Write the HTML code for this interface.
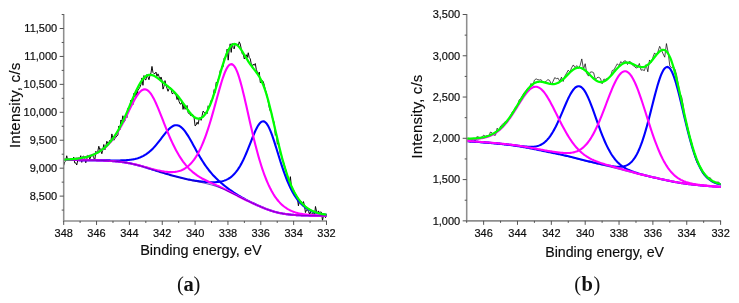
<!DOCTYPE html>
<html><head><meta charset="utf-8"><title>XPS spectra</title>
<style>html,body{margin:0;padding:0;background:#fff;}svg{display:block;}</style>
</head><body>
<svg width="739" height="303" viewBox="0 0 739 303">
<rect width="739" height="303" fill="#fff"/>
<g fill="none" stroke-linejoin="miter" stroke-linecap="butt">
<path d="M63.70,165.56 L64.70,161.94 L65.71,161.05 L66.71,155.78 L67.71,160.06 L68.72,159.85 L69.72,160.57 L70.72,159.08 L71.72,160.63 L72.73,159.42 L73.73,157.11 L74.73,162.98 L75.74,162.89 L76.74,165.03 L77.74,160.44 L78.75,159.09 L79.75,158.57 L80.75,155.70 L81.75,162.36 L82.76,156.52 L83.76,156.07 L84.76,158.48 L85.77,162.79 L86.77,159.12 L87.77,155.39 L88.78,155.90 L89.78,159.16 L90.78,156.64 L91.79,154.57 L92.79,155.59 L93.79,157.76 L94.79,160.61 L95.80,151.29 L96.80,152.40 L97.80,151.30 L98.81,146.24 L99.81,149.64 L100.81,148.63 L101.82,153.76 L102.82,149.50 L103.82,144.53 L104.83,149.88 L105.83,146.16 L106.83,141.31 L107.83,143.42 L108.84,142.31 L109.84,140.34 L110.84,141.61 L111.85,133.93 L112.85,138.10 L113.85,140.26 L114.86,138.31 L115.86,137.46 L116.86,135.85 L117.86,135.19 L118.87,125.97 L119.87,129.72 L120.87,120.01 L121.88,121.62 L122.88,115.74 L123.88,122.20 L124.89,120.86 L125.89,114.15 L126.89,117.67 L127.90,108.16 L128.90,108.27 L129.90,105.96 L130.90,100.00 L131.91,102.22 L132.91,104.51 L133.91,93.37 L134.92,97.10 L135.92,91.86 L136.92,95.82 L137.93,90.05 L138.93,88.92 L139.93,87.20 L140.94,84.47 L141.94,77.95 L142.94,85.34 L143.94,75.55 L144.95,79.54 L145.95,79.81 L146.95,74.50 L147.96,76.97 L148.96,79.74 L149.96,75.70 L150.97,72.83 L151.97,66.41 L152.97,72.48 L153.97,73.58 L154.98,73.65 L155.98,72.10 L156.98,76.34 L157.99,73.85 L158.99,76.30 L159.99,80.17 L161.00,76.97 L162.00,80.19 L163.00,89.13 L164.01,86.29 L165.01,80.61 L166.01,85.33 L167.01,88.26 L168.02,91.28 L169.02,88.92 L170.02,87.83 L171.03,88.25 L172.03,93.52 L173.03,93.60 L174.04,92.20 L175.04,94.37 L176.04,94.89 L177.05,99.59 L178.05,96.58 L179.05,101.45 L180.05,103.87 L181.06,104.12 L182.06,101.51 L183.06,109.40 L184.07,104.71 L185.07,109.34 L186.07,107.15 L187.08,105.50 L188.08,112.56 L189.08,113.90 L190.08,113.93 L191.09,115.98 L192.09,114.21 L193.09,114.90 L194.10,117.84 L195.10,125.91 L196.10,125.05 L197.11,122.19 L198.11,124.19 L199.11,119.09 L200.12,117.53 L201.12,120.35 L202.12,115.46 L203.12,111.11 L204.13,112.16 L205.13,113.66 L206.13,112.15 L207.14,113.61 L208.14,105.80 L209.14,107.88 L210.15,104.59 L211.15,100.32 L212.15,100.57 L213.15,96.71 L214.16,89.64 L215.16,92.46 L216.16,82.28 L217.17,82.98 L218.17,79.53 L219.17,77.54 L220.18,70.64 L221.18,69.54 L222.18,66.02 L223.19,66.58 L224.19,57.93 L225.19,58.03 L226.19,54.52 L227.20,49.01 L228.20,60.16 L229.20,49.68 L230.21,43.82 L231.21,52.39 L232.21,43.48 L233.22,47.68 L234.22,48.90 L235.22,43.70 L236.23,44.39 L237.23,44.23 L238.23,46.03 L239.23,41.82 L240.24,44.02 L241.24,48.74 L242.24,53.88 L243.25,53.95 L244.25,58.98 L245.25,57.12 L246.26,54.73 L247.26,57.46 L248.26,52.78 L249.26,57.61 L250.27,58.78 L251.27,64.20 L252.27,66.66 L253.28,64.08 L254.28,65.25 L255.28,63.52 L256.29,69.36 L257.29,71.98 L258.29,74.17 L259.30,72.04 L260.30,82.59 L261.30,82.20 L262.30,80.52 L263.31,81.76 L264.31,85.22 L265.31,89.73 L266.32,92.53 L267.32,97.59 L268.32,102.19 L269.33,107.91 L270.33,111.34 L271.33,111.87 L272.34,117.67 L273.34,119.82 L274.34,123.70 L275.34,135.27 L276.35,132.95 L277.35,144.19 L278.35,141.92 L279.36,147.78 L280.36,154.13 L281.36,155.15 L282.37,159.94 L283.37,161.88 L284.37,164.75 L285.37,168.90 L286.38,170.80 L287.38,179.77 L288.38,177.91 L289.39,185.48 L290.39,176.66 L291.39,185.98 L292.40,189.60 L293.40,189.51 L294.40,194.97 L295.41,195.65 L296.41,195.06 L297.41,198.42 L298.41,205.81 L299.42,200.81 L300.42,202.20 L301.42,201.56 L302.43,204.07 L303.43,201.58 L304.43,205.20 L305.44,212.57 L306.44,209.96 L307.44,209.65 L308.45,211.46 L309.45,213.97 L310.45,211.40 L311.45,215.51 L312.46,213.56 L313.46,211.82 L314.46,215.98 L315.47,206.48 L316.47,211.15 L317.47,213.48 L318.48,210.92 L319.48,213.00 L320.48,212.07 L321.48,212.25 L322.49,220.55 L323.49,215.70 L324.49,214.22 L325.50,217.66 L326.50,214.06" stroke="#000" stroke-width="0.95"/>
<path d="M63.70,160.03 L64.70,160.03 L65.71,160.03 L66.71,160.04 L67.71,160.04 L68.72,160.04 L69.72,160.04 L70.72,160.04 L71.72,160.05 L72.73,160.05 L73.73,160.05 L74.73,160.06 L75.74,160.06 L76.74,160.06 L77.74,160.07 L78.75,160.07 L79.75,160.08 L80.75,160.08 L81.75,160.09 L82.76,160.09 L83.76,160.10 L84.76,160.11 L85.77,160.11 L86.77,160.12 L87.77,160.13 L88.78,160.14 L89.78,160.15 L90.78,160.16 L91.79,160.17 L92.79,160.18 L93.79,160.19 L94.79,160.20 L95.80,160.22 L96.80,160.23 L97.80,160.24 L98.81,160.26 L99.81,160.27 L100.81,160.28 L101.82,160.30 L102.82,160.31 L103.82,160.33 L104.83,160.34 L105.83,160.36 L106.83,160.37 L107.83,160.39 L108.84,160.40 L109.84,160.41 L110.84,160.43 L111.85,160.44 L112.85,160.45 L113.85,160.45 L114.86,160.46 L115.86,160.46 L116.86,160.46 L117.86,160.45 L118.87,160.44 L119.87,160.43 L120.87,160.41 L121.88,160.38 L122.88,160.35 L123.88,160.31 L124.89,160.25 L125.89,160.19 L126.89,160.12 L127.90,160.03 L128.90,159.94 L129.90,159.82 L130.90,159.69 L131.91,159.54 L132.91,159.37 L133.91,159.17 L134.92,158.96 L135.92,158.71 L136.92,158.44 L137.93,158.14 L138.93,157.80 L139.93,157.43 L140.94,157.02 L141.94,156.57 L142.94,156.07 L143.94,155.54 L144.95,154.95 L145.95,154.32 L146.95,153.63 L147.96,152.90 L148.96,152.11 L149.96,151.26 L150.97,150.37 L151.97,149.41 L152.97,148.41 L153.97,147.35 L154.98,146.24 L155.98,145.09 L156.98,143.89 L157.99,142.66 L158.99,141.39 L159.99,140.10 L161.00,138.79 L162.00,137.48 L163.00,136.17 L164.01,134.87 L165.01,133.60 L166.01,132.37 L167.01,131.19 L168.02,130.08 L169.02,129.05 L170.02,128.11 L171.03,127.28 L172.03,126.58 L173.03,126.00 L174.04,125.57 L175.04,125.29 L176.04,125.18 L177.05,125.22 L178.05,125.44 L179.05,125.82 L180.05,126.37 L181.06,127.09 L182.06,127.96 L183.06,128.98 L184.07,130.13 L185.07,131.42 L186.07,132.82 L187.08,134.32 L188.08,135.90 L189.08,137.57 L190.08,139.29 L191.09,141.05 L192.09,142.85 L193.09,144.68 L194.10,146.51 L195.10,148.34 L196.10,150.16 L197.11,151.96 L198.11,153.74 L199.11,155.48 L200.12,157.19 L201.12,158.86 L202.12,160.48 L203.12,162.06 L204.13,163.59 L205.13,165.07 L206.13,166.50 L207.14,167.89 L208.14,169.22 L209.14,170.51 L210.15,171.75 L211.15,172.95 L212.15,174.10 L213.15,175.22 L214.16,176.30 L215.16,177.34 L216.16,178.35 L217.17,179.32 L218.17,180.27 L219.17,181.19 L220.18,182.09 L221.18,182.96 L222.18,183.81 L223.19,184.64 L224.19,185.46 L225.19,186.25 L226.19,187.03 L227.20,187.80 L228.20,188.55 L229.20,189.28 L230.21,190.00 L231.21,190.71 L232.21,191.41 L233.22,192.09 L234.22,192.76 L235.22,193.42 L236.23,194.06 L237.23,194.69 L238.23,195.31 L239.23,195.92 L240.24,196.51 L241.24,197.09 L242.24,197.66 L243.25,198.22 L244.25,198.77 L245.25,199.31 L246.26,199.84 L247.26,200.36 L248.26,200.87 L249.26,201.37 L250.27,201.87 L251.27,202.36 L252.27,202.84 L253.28,203.32 L254.28,203.79 L255.28,204.26 L256.29,204.72 L257.29,205.18 L258.29,205.63 L259.30,206.08 L260.30,206.52 L261.30,206.95 L262.30,207.38 L263.31,207.80 L264.31,208.21 L265.31,208.61 L266.32,209.00 L267.32,209.38 L268.32,209.75 L269.33,210.10 L270.33,210.45 L271.33,210.78 L272.34,211.10 L273.34,211.40 L274.34,211.69 L275.34,211.97 L276.35,212.23 L277.35,212.48 L278.35,212.71 L279.36,212.93 L280.36,213.14 L281.36,213.34 L282.37,213.52 L283.37,213.69 L284.37,213.85 L285.37,214.00 L286.38,214.14 L287.38,214.27 L288.38,214.39 L289.39,214.50 L290.39,214.61 L291.39,214.71 L292.40,214.79 L293.40,214.88 L294.40,214.95 L295.41,215.02 L296.41,215.09 L297.41,215.15 L298.41,215.20 L299.42,215.25 L300.42,215.30 L301.42,215.34 L302.43,215.38 L303.43,215.42 L304.43,215.45 L305.44,215.48 L306.44,215.51 L307.44,215.53 L308.45,215.56 L309.45,215.58 L310.45,215.60 L311.45,215.61 L312.46,215.63 L313.46,215.64 L314.46,215.66 L315.47,215.67 L316.47,215.68 L317.47,215.69 L318.48,215.70 L319.48,215.70 L320.48,215.71 L321.48,215.72 L322.49,215.72 L323.49,215.73 L324.49,215.73 L325.50,215.74 L326.50,215.74" stroke="#0000ff" stroke-width="2.1"/>
<path d="M63.70,160.03 L64.70,160.03 L65.71,160.03 L66.71,160.04 L67.71,160.04 L68.72,160.04 L69.72,160.04 L70.72,160.05 L71.72,160.05 L72.73,160.05 L73.73,160.06 L74.73,160.06 L75.74,160.06 L76.74,160.07 L77.74,160.07 L78.75,160.08 L79.75,160.09 L80.75,160.09 L81.75,160.10 L82.76,160.11 L83.76,160.12 L84.76,160.13 L85.77,160.14 L86.77,160.15 L87.77,160.16 L88.78,160.17 L89.78,160.19 L90.78,160.20 L91.79,160.22 L92.79,160.24 L93.79,160.26 L94.79,160.28 L95.80,160.30 L96.80,160.33 L97.80,160.35 L98.81,160.38 L99.81,160.41 L100.81,160.44 L101.82,160.48 L102.82,160.52 L103.82,160.56 L104.83,160.60 L105.83,160.65 L106.83,160.70 L107.83,160.75 L108.84,160.81 L109.84,160.87 L110.84,160.94 L111.85,161.01 L112.85,161.09 L113.85,161.17 L114.86,161.25 L115.86,161.34 L116.86,161.44 L117.86,161.54 L118.87,161.65 L119.87,161.77 L120.87,161.89 L121.88,162.02 L122.88,162.16 L123.88,162.30 L124.89,162.46 L125.89,162.62 L126.89,162.79 L127.90,162.96 L128.90,163.15 L129.90,163.34 L130.90,163.55 L131.91,163.76 L132.91,163.98 L133.91,164.21 L134.92,164.45 L135.92,164.69 L136.92,164.95 L137.93,165.21 L138.93,165.48 L139.93,165.75 L140.94,166.03 L141.94,166.32 L142.94,166.61 L143.94,166.91 L144.95,167.22 L145.95,167.52 L146.95,167.83 L147.96,168.14 L148.96,168.46 L149.96,168.77 L150.97,169.09 L151.97,169.40 L152.97,169.72 L153.97,170.03 L154.98,170.35 L155.98,170.66 L156.98,170.97 L157.99,171.28 L158.99,171.59 L159.99,171.90 L161.00,172.21 L162.00,172.51 L163.00,172.81 L164.01,173.11 L165.01,173.41 L166.01,173.71 L167.01,174.00 L168.02,174.29 L169.02,174.58 L170.02,174.87 L171.03,175.16 L172.03,175.44 L173.03,175.72 L174.04,176.00 L175.04,176.27 L176.04,176.54 L177.05,176.81 L178.05,177.08 L179.05,177.33 L180.05,177.59 L181.06,177.84 L182.06,178.08 L183.06,178.32 L184.07,178.56 L185.07,178.78 L186.07,179.00 L187.08,179.22 L188.08,179.43 L189.08,179.63 L190.08,179.82 L191.09,180.01 L192.09,180.19 L193.09,180.37 L194.10,180.53 L195.10,180.69 L196.10,180.85 L197.11,180.99 L198.11,181.13 L199.11,181.27 L200.12,181.39 L201.12,181.51 L202.12,181.62 L203.12,181.72 L204.13,181.82 L205.13,181.91 L206.13,181.99 L207.14,182.06 L208.14,182.11 L209.14,182.16 L210.15,182.20 L211.15,182.23 L212.15,182.24 L213.15,182.24 L214.16,182.22 L215.16,182.18 L216.16,182.12 L217.17,182.04 L218.17,181.94 L219.17,181.81 L220.18,181.64 L221.18,181.45 L222.18,181.22 L223.19,180.95 L224.19,180.63 L225.19,180.27 L226.19,179.85 L227.20,179.38 L228.20,178.84 L229.20,178.24 L230.21,177.56 L231.21,176.81 L232.21,175.97 L233.22,175.04 L234.22,174.02 L235.22,172.90 L236.23,171.67 L237.23,170.34 L238.23,168.90 L239.23,167.34 L240.24,165.67 L241.24,163.88 L242.24,161.97 L243.25,159.95 L244.25,157.83 L245.25,155.60 L246.26,153.28 L247.26,150.87 L248.26,148.40 L249.26,145.87 L250.27,143.32 L251.27,140.76 L252.27,138.22 L253.28,135.73 L254.28,133.33 L255.28,131.05 L256.29,128.92 L257.29,126.98 L258.29,125.28 L259.30,123.84 L260.30,122.69 L261.30,121.88 L262.30,121.41 L263.31,121.30 L264.31,121.57 L265.31,122.21 L266.32,123.23 L267.32,124.60 L268.32,126.31 L269.33,128.33 L270.33,130.63 L271.33,133.17 L272.34,135.93 L273.34,138.85 L274.34,141.91 L275.34,145.07 L276.35,148.29 L277.35,151.54 L278.35,154.80 L279.36,158.03 L280.36,161.21 L281.36,164.33 L282.37,167.37 L283.37,170.31 L284.37,173.15 L285.37,175.88 L286.38,178.50 L287.38,180.99 L288.38,183.36 L289.39,185.61 L290.39,187.74 L291.39,189.75 L292.40,191.65 L293.40,193.43 L294.40,195.10 L295.41,196.67 L296.41,198.13 L297.41,199.50 L298.41,200.78 L299.42,201.97 L300.42,203.08 L301.42,204.11 L302.43,205.06 L303.43,205.95 L304.43,206.77 L305.44,207.53 L306.44,208.23 L307.44,208.88 L308.45,209.48 L309.45,210.03 L310.45,210.54 L311.45,211.00 L312.46,211.43 L313.46,211.83 L314.46,212.19 L315.47,212.52 L316.47,212.82 L317.47,213.10 L318.48,213.35 L319.48,213.59 L320.48,213.80 L321.48,213.99 L322.49,214.16 L323.49,214.32 L324.49,214.47 L325.50,214.60 L326.50,214.72" stroke="#0000ff" stroke-width="2.1"/>
<path d="M63.70,159.61 L64.70,159.57 L65.71,159.52 L66.71,159.47 L67.71,159.42 L68.72,159.36 L69.72,159.30 L70.72,159.23 L71.72,159.15 L72.73,159.07 L73.73,158.98 L74.73,158.88 L75.74,158.77 L76.74,158.66 L77.74,158.53 L78.75,158.40 L79.75,158.25 L80.75,158.09 L81.75,157.92 L82.76,157.74 L83.76,157.54 L84.76,157.32 L85.77,157.09 L86.77,156.84 L87.77,156.58 L88.78,156.29 L89.78,155.98 L90.78,155.65 L91.79,155.29 L92.79,154.91 L93.79,154.50 L94.79,154.07 L95.80,153.60 L96.80,153.10 L97.80,152.57 L98.81,152.00 L99.81,151.40 L100.81,150.75 L101.82,150.06 L102.82,149.34 L103.82,148.56 L104.83,147.74 L105.83,146.87 L106.83,145.94 L107.83,144.97 L108.84,143.93 L109.84,142.85 L110.84,141.70 L111.85,140.49 L112.85,139.22 L113.85,137.88 L114.86,136.49 L115.86,135.02 L116.86,133.50 L117.86,131.90 L118.87,130.25 L119.87,128.53 L120.87,126.75 L121.88,124.92 L122.88,123.03 L123.88,121.09 L124.89,119.11 L125.89,117.09 L126.89,115.05 L127.90,112.98 L128.90,110.91 L129.90,108.85 L130.90,106.80 L131.91,104.78 L132.91,102.82 L133.91,100.91 L134.92,99.09 L135.92,97.38 L136.92,95.78 L137.93,94.32 L138.93,93.02 L139.93,91.89 L140.94,90.95 L141.94,90.22 L142.94,89.70 L143.94,89.41 L144.95,89.36 L145.95,89.54 L146.95,89.97 L147.96,90.63 L148.96,91.52 L149.96,92.63 L150.97,93.96 L151.97,95.49 L152.97,97.20 L153.97,99.08 L154.98,101.11 L155.98,103.27 L156.98,105.55 L157.99,107.91 L158.99,110.35 L159.99,112.84 L161.00,115.38 L162.00,117.93 L163.00,120.49 L164.01,123.05 L165.01,125.59 L166.01,128.11 L167.01,130.58 L168.02,133.01 L169.02,135.39 L170.02,137.71 L171.03,139.96 L172.03,142.15 L173.03,144.28 L174.04,146.33 L175.04,148.30 L176.04,150.21 L177.05,152.04 L178.05,153.80 L179.05,155.48 L180.05,157.09 L181.06,158.64 L182.06,160.11 L183.06,161.52 L184.07,162.86 L185.07,164.13 L186.07,165.35 L187.08,166.51 L188.08,167.61 L189.08,168.66 L190.08,169.65 L191.09,170.60 L192.09,171.49 L193.09,172.35 L194.10,173.16 L195.10,173.94 L196.10,174.67 L197.11,175.38 L198.11,176.05 L199.11,176.69 L200.12,177.30 L201.12,177.89 L202.12,178.46 L203.12,179.00 L204.13,179.53 L205.13,180.04 L206.13,180.54 L207.14,181.03 L208.14,181.50 L209.14,181.97 L210.15,182.43 L211.15,182.88 L212.15,183.34 L213.15,183.79 L214.16,184.24 L215.16,184.69 L216.16,185.14 L217.17,185.60 L218.17,186.05 L219.17,186.52 L220.18,186.99 L221.18,187.46 L222.18,187.94 L223.19,188.43 L224.19,188.92 L225.19,189.42 L226.19,189.93 L227.20,190.44 L228.20,190.96 L229.20,191.48 L230.21,192.00 L231.21,192.53 L232.21,193.05 L233.22,193.58 L234.22,194.11 L235.22,194.64 L236.23,195.16 L237.23,195.69 L238.23,196.21 L239.23,196.73 L240.24,197.24 L241.24,197.75 L242.24,198.25 L243.25,198.75 L244.25,199.24 L245.25,199.73 L246.26,200.22 L247.26,200.69 L248.26,201.17 L249.26,201.64 L250.27,202.11 L251.27,202.57 L252.27,203.03 L253.28,203.49 L254.28,203.94 L255.28,204.39 L256.29,204.84 L257.29,205.28 L258.29,205.72 L259.30,206.16 L260.30,206.59 L261.30,207.01 L262.30,207.43 L263.31,207.84 L264.31,208.25 L265.31,208.64 L266.32,209.03 L267.32,209.41 L268.32,209.77 L269.33,210.13 L270.33,210.47 L271.33,210.80 L272.34,211.11 L273.34,211.41 L274.34,211.70 L275.34,211.98 L276.35,212.24 L277.35,212.48 L278.35,212.72 L279.36,212.94 L280.36,213.14 L281.36,213.34 L282.37,213.52 L283.37,213.69 L284.37,213.85 L285.37,214.00 L286.38,214.14 L287.38,214.27 L288.38,214.39 L289.39,214.51 L290.39,214.61 L291.39,214.71 L292.40,214.80 L293.40,214.88 L294.40,214.95 L295.41,215.02 L296.41,215.09 L297.41,215.15 L298.41,215.20 L299.42,215.25 L300.42,215.30 L301.42,215.34 L302.43,215.38 L303.43,215.42 L304.43,215.45 L305.44,215.48 L306.44,215.51 L307.44,215.53 L308.45,215.56 L309.45,215.58 L310.45,215.60 L311.45,215.61 L312.46,215.63 L313.46,215.64 L314.46,215.66 L315.47,215.67 L316.47,215.68 L317.47,215.69 L318.48,215.70 L319.48,215.70 L320.48,215.71 L321.48,215.72 L322.49,215.72 L323.49,215.73 L324.49,215.73 L325.50,215.74 L326.50,215.74" stroke="#ff00ff" stroke-width="2.1"/>
<path d="M63.70,160.03 L64.70,160.03 L65.71,160.03 L66.71,160.04 L67.71,160.04 L68.72,160.04 L69.72,160.04 L70.72,160.05 L71.72,160.05 L72.73,160.05 L73.73,160.06 L74.73,160.06 L75.74,160.06 L76.74,160.07 L77.74,160.07 L78.75,160.08 L79.75,160.09 L80.75,160.09 L81.75,160.10 L82.76,160.11 L83.76,160.12 L84.76,160.13 L85.77,160.14 L86.77,160.15 L87.77,160.16 L88.78,160.17 L89.78,160.19 L90.78,160.20 L91.79,160.22 L92.79,160.24 L93.79,160.26 L94.79,160.28 L95.80,160.30 L96.80,160.33 L97.80,160.35 L98.81,160.38 L99.81,160.41 L100.81,160.44 L101.82,160.48 L102.82,160.52 L103.82,160.56 L104.83,160.60 L105.83,160.65 L106.83,160.70 L107.83,160.75 L108.84,160.81 L109.84,160.87 L110.84,160.94 L111.85,161.01 L112.85,161.08 L113.85,161.16 L114.86,161.25 L115.86,161.34 L116.86,161.44 L117.86,161.54 L118.87,161.65 L119.87,161.76 L120.87,161.88 L121.88,162.01 L122.88,162.15 L123.88,162.29 L124.89,162.44 L125.89,162.60 L126.89,162.76 L127.90,162.94 L128.90,163.12 L129.90,163.31 L130.90,163.51 L131.91,163.72 L132.91,163.93 L133.91,164.15 L134.92,164.38 L135.92,164.62 L136.92,164.87 L137.93,165.12 L138.93,165.38 L139.93,165.64 L140.94,165.91 L141.94,166.18 L142.94,166.45 L143.94,166.73 L144.95,167.01 L145.95,167.29 L146.95,167.58 L147.96,167.86 L148.96,168.14 L149.96,168.41 L150.97,168.69 L151.97,168.96 L152.97,169.22 L153.97,169.48 L154.98,169.73 L155.98,169.97 L156.98,170.21 L157.99,170.44 L158.99,170.65 L159.99,170.86 L161.00,171.05 L162.00,171.23 L163.00,171.40 L164.01,171.55 L165.01,171.69 L166.01,171.81 L167.01,171.91 L168.02,171.99 L169.02,172.05 L170.02,172.09 L171.03,172.10 L172.03,172.09 L173.03,172.05 L174.04,171.97 L175.04,171.87 L176.04,171.73 L177.05,171.55 L178.05,171.33 L179.05,171.06 L180.05,170.75 L181.06,170.40 L182.06,169.98 L183.06,169.51 L184.07,168.99 L185.07,168.39 L186.07,167.74 L187.08,167.01 L188.08,166.20 L189.08,165.32 L190.08,164.36 L191.09,163.30 L192.09,162.16 L193.09,160.92 L194.10,159.59 L195.10,158.15 L196.10,156.60 L197.11,154.95 L198.11,153.17 L199.11,151.28 L200.12,149.27 L201.12,147.14 L202.12,144.88 L203.12,142.49 L204.13,139.97 L205.13,137.32 L206.13,134.55 L207.14,131.64 L208.14,128.62 L209.14,125.47 L210.15,122.22 L211.15,118.86 L212.15,115.41 L213.15,111.88 L214.16,108.29 L215.16,104.65 L216.16,100.99 L217.17,97.32 L218.17,93.69 L219.17,90.11 L220.18,86.62 L221.18,83.25 L222.18,80.04 L223.19,77.02 L224.19,74.24 L225.19,71.73 L226.19,69.52 L227.20,67.65 L228.20,66.16 L229.20,65.06 L230.21,64.39 L231.21,64.15 L232.21,64.35 L233.22,65.01 L234.22,66.11 L235.22,67.64 L236.23,69.60 L237.23,71.95 L238.23,74.67 L239.23,77.73 L240.24,81.10 L241.24,84.73 L242.24,88.59 L243.25,92.65 L244.25,96.86 L245.25,101.18 L246.26,105.59 L247.26,110.04 L248.26,114.52 L249.26,118.98 L250.27,123.42 L251.27,127.80 L252.27,132.11 L253.28,136.33 L254.28,140.44 L255.28,144.45 L256.29,148.34 L257.29,152.09 L258.29,155.72 L259.30,159.21 L260.30,162.56 L261.30,165.77 L262.30,168.84 L263.31,171.77 L264.31,174.57 L265.31,177.22 L266.32,179.75 L267.32,182.15 L268.32,184.41 L269.33,186.56 L270.33,188.59 L271.33,190.50 L272.34,192.29 L273.34,193.99 L274.34,195.57 L275.34,197.06 L276.35,198.46 L277.35,199.77 L278.35,200.99 L279.36,202.13 L280.36,203.19 L281.36,204.18 L282.37,205.10 L283.37,205.96 L284.37,206.75 L285.37,207.49 L286.38,208.17 L287.38,208.81 L288.38,209.39 L289.39,209.93 L290.39,210.43 L291.39,210.89 L292.40,211.32 L293.40,211.71 L294.40,212.07 L295.41,212.40 L296.41,212.70 L297.41,212.98 L298.41,213.24 L299.42,213.47 L300.42,213.68 L301.42,213.88 L302.43,214.06 L303.43,214.22 L304.43,214.37 L305.44,214.51 L306.44,214.63 L307.44,214.74 L308.45,214.84 L309.45,214.94 L310.45,215.02 L311.45,215.10 L312.46,215.17 L313.46,215.23 L314.46,215.28 L315.47,215.33 L316.47,215.38 L317.47,215.42 L318.48,215.46 L319.48,215.49 L320.48,215.52 L321.48,215.55 L322.49,215.57 L323.49,215.60 L324.49,215.62 L325.50,215.63 L326.50,215.65" stroke="#ff00ff" stroke-width="2.1"/>
<path d="M63.70,160.03 L64.70,160.03 L65.71,160.03 L66.71,160.04 L67.71,160.04 L68.72,160.04 L69.72,160.04 L70.72,160.05 L71.72,160.05 L72.73,160.05 L73.73,160.06 L74.73,160.06 L75.74,160.06 L76.74,160.07 L77.74,160.07 L78.75,160.08 L79.75,160.09 L80.75,160.09 L81.75,160.10 L82.76,160.11 L83.76,160.12 L84.76,160.13 L85.77,160.14 L86.77,160.15 L87.77,160.16 L88.78,160.17 L89.78,160.19 L90.78,160.20 L91.79,160.22 L92.79,160.24 L93.79,160.26 L94.79,160.28 L95.80,160.30 L96.80,160.33 L97.80,160.35 L98.81,160.38 L99.81,160.41 L100.81,160.44 L101.82,160.48 L102.82,160.52 L103.82,160.56 L104.83,160.60 L105.83,160.65 L106.83,160.70 L107.83,160.75 L108.84,160.81 L109.84,160.87 L110.84,160.94 L111.85,161.01 L112.85,161.09 L113.85,161.17 L114.86,161.25 L115.86,161.34 L116.86,161.44 L117.86,161.54 L118.87,161.65 L119.87,161.77 L120.87,161.89 L121.88,162.02 L122.88,162.16 L123.88,162.30 L124.89,162.46 L125.89,162.62 L126.89,162.79 L127.90,162.96 L128.90,163.15 L129.90,163.34 L130.90,163.55 L131.91,163.76 L132.91,163.98 L133.91,164.21 L134.92,164.45 L135.92,164.69 L136.92,164.95 L137.93,165.21 L138.93,165.48 L139.93,165.75 L140.94,166.03 L141.94,166.32 L142.94,166.61 L143.94,166.91 L144.95,167.22 L145.95,167.52 L146.95,167.83 L147.96,168.14 L148.96,168.46 L149.96,168.77 L150.97,169.09 L151.97,169.40 L152.97,169.72 L153.97,170.04 L154.98,170.35 L155.98,170.66 L156.98,170.98 L157.99,171.29 L158.99,171.60 L159.99,171.90 L161.00,172.21 L162.00,172.52 L163.00,172.82 L164.01,173.12 L165.01,173.42 L166.01,173.72 L167.01,174.01 L168.02,174.31 L169.02,174.60 L170.02,174.89 L171.03,175.18 L172.03,175.47 L173.03,175.75 L174.04,176.03 L175.04,176.31 L176.04,176.59 L177.05,176.86 L178.05,177.14 L179.05,177.40 L180.05,177.67 L181.06,177.93 L182.06,178.18 L183.06,178.44 L184.07,178.69 L185.07,178.93 L186.07,179.17 L187.08,179.41 L188.08,179.64 L189.08,179.87 L190.08,180.09 L191.09,180.32 L192.09,180.54 L193.09,180.75 L194.10,180.97 L195.10,181.18 L196.10,181.39 L197.11,181.60 L198.11,181.82 L199.11,182.03 L200.12,182.24 L201.12,182.46 L202.12,182.68 L203.12,182.90 L204.13,183.12 L205.13,183.36 L206.13,183.59 L207.14,183.84 L208.14,184.09 L209.14,184.35 L210.15,184.61 L211.15,184.89 L212.15,185.18 L213.15,185.48 L214.16,185.78 L215.16,186.10 L216.16,186.44 L217.17,186.78 L218.17,187.14 L219.17,187.51 L220.18,187.89 L221.18,188.29 L222.18,188.69 L223.19,189.11 L224.19,189.55 L225.19,189.99 L226.19,190.44 L227.20,190.91 L228.20,191.38 L229.20,191.86 L230.21,192.35 L231.21,192.84 L232.21,193.34 L233.22,193.84 L234.22,194.34 L235.22,194.85 L236.23,195.35 L237.23,195.86 L238.23,196.36 L239.23,196.86 L240.24,197.36 L241.24,197.86 L242.24,198.35 L243.25,198.84 L244.25,199.32 L245.25,199.80 L246.26,200.28 L247.26,200.75 L248.26,201.22 L249.26,201.69 L250.27,202.15 L251.27,202.61 L252.27,203.06 L253.28,203.52 L254.28,203.97 L255.28,204.41 L256.29,204.86 L257.29,205.30 L258.29,205.74 L259.30,206.17 L260.30,206.60 L261.30,207.02 L262.30,207.44 L263.31,207.85 L264.31,208.25 L265.31,208.65 L266.32,209.04 L267.32,209.41 L268.32,209.78 L269.33,210.13 L270.33,210.47 L271.33,210.80 L272.34,211.11 L273.34,211.41 L274.34,211.70 L275.34,211.98 L276.35,212.24 L277.35,212.48 L278.35,212.72 L279.36,212.94 L280.36,213.15 L281.36,213.34 L282.37,213.52 L283.37,213.69 L284.37,213.85 L285.37,214.00 L286.38,214.14 L287.38,214.27 L288.38,214.39 L289.39,214.51 L290.39,214.61 L291.39,214.71 L292.40,214.80 L293.40,214.88 L294.40,214.95 L295.41,215.02 L296.41,215.09 L297.41,215.15 L298.41,215.20 L299.42,215.25 L300.42,215.30 L301.42,215.34 L302.43,215.38 L303.43,215.42 L304.43,215.45 L305.44,215.48 L306.44,215.51 L307.44,215.53 L308.45,215.56 L309.45,215.58 L310.45,215.60 L311.45,215.61 L312.46,215.63 L313.46,215.64 L314.46,215.66 L315.47,215.67 L316.47,215.68 L317.47,215.69 L318.48,215.70 L319.48,215.70 L320.48,215.71 L321.48,215.72 L322.49,215.72 L323.49,215.73 L324.49,215.73 L325.50,215.74 L326.50,215.74" stroke="#2a00b0" stroke-width="0.75"/>
<path d="M63.70,159.61 L64.70,159.57 L65.71,159.52 L66.71,159.47 L67.71,159.42 L68.72,159.36 L69.72,159.29 L70.72,159.22 L71.72,159.15 L72.73,159.06 L73.73,158.97 L74.73,158.87 L75.74,158.77 L76.74,158.65 L77.74,158.53 L78.75,158.39 L79.75,158.24 L80.75,158.08 L81.75,157.91 L82.76,157.72 L83.76,157.52 L84.76,157.30 L85.77,157.07 L86.77,156.82 L87.77,156.55 L88.78,156.26 L89.78,155.94 L90.78,155.60 L91.79,155.24 L92.79,154.85 L93.79,154.44 L94.79,153.99 L95.80,153.52 L96.80,153.00 L97.80,152.46 L98.81,151.88 L99.81,151.25 L100.81,150.59 L101.82,149.88 L102.82,149.13 L103.82,148.33 L104.83,147.48 L105.83,146.57 L106.83,145.62 L107.83,144.60 L108.84,143.52 L109.84,142.38 L110.84,141.18 L111.85,139.91 L112.85,138.57 L113.85,137.17 L114.86,135.69 L115.86,134.13 L116.86,132.51 L117.86,130.81 L118.87,129.03 L119.87,127.18 L120.87,125.26 L121.88,123.26 L122.88,121.20 L123.88,119.08 L124.89,116.89 L125.89,114.65 L126.89,112.36 L127.90,110.03 L128.90,107.67 L129.90,105.29 L130.90,102.90 L131.91,100.52 L132.91,98.16 L133.91,95.83 L134.92,93.54 L135.92,91.33 L136.92,89.20 L137.93,87.16 L138.93,85.24 L139.93,83.45 L140.94,81.81 L141.94,80.32 L142.94,79.00 L143.94,77.86 L144.95,76.89 L145.95,76.11 L146.95,75.51 L147.96,75.09 L148.96,74.85 L149.96,74.77 L150.97,74.84 L151.97,75.05 L152.97,75.39 L153.97,75.84 L154.98,76.38 L155.98,77.01 L156.98,77.69 L157.99,78.43 L158.99,79.20 L159.99,79.99 L161.00,80.79 L162.00,81.61 L163.00,82.42 L164.01,83.23 L165.01,84.04 L166.01,84.84 L167.01,85.64 L168.02,86.45 L169.02,87.27 L170.02,88.11 L171.03,88.97 L172.03,89.86 L173.03,90.79 L174.04,91.77 L175.04,92.80 L176.04,93.88 L177.05,95.03 L178.05,96.23 L179.05,97.49 L180.05,98.81 L181.06,100.17 L182.06,101.58 L183.06,103.02 L184.07,104.47 L185.07,105.94 L186.07,107.39 L187.08,108.83 L188.08,110.22 L189.08,111.56 L190.08,112.83 L191.09,114.02 L192.09,115.10 L193.09,116.06 L194.10,116.89 L195.10,117.58 L196.10,118.10 L197.11,118.46 L198.11,118.64 L199.11,118.64 L200.12,118.43 L201.12,118.03 L202.12,117.41 L203.12,116.58 L204.13,115.54 L205.13,114.28 L206.13,112.80 L207.14,111.10 L208.14,109.19 L209.14,107.08 L210.15,104.76 L211.15,102.25 L212.15,99.56 L213.15,96.70 L214.16,93.69 L215.16,90.54 L216.16,87.29 L217.17,83.94 L218.17,80.54 L219.17,77.10 L220.18,73.67 L221.18,70.26 L222.18,66.93 L223.19,63.70 L224.19,60.62 L225.19,57.71 L226.19,55.01 L227.20,52.55 L228.20,50.37 L229.20,48.48 L230.21,46.91 L231.21,45.67 L232.21,44.77 L233.22,44.20 L234.22,43.97 L235.22,44.05 L236.23,44.44 L237.23,45.10 L238.23,46.00 L239.23,47.12 L240.24,48.43 L241.24,49.87 L242.24,51.43 L243.25,53.06 L244.25,54.73 L245.25,56.41 L246.26,58.08 L247.26,59.71 L248.26,61.29 L249.26,62.81 L250.27,64.27 L251.27,65.67 L252.27,67.01 L253.28,68.32 L254.28,69.61 L255.28,70.91 L256.29,72.24 L257.29,73.64 L258.29,75.14 L259.30,76.77 L260.30,78.56 L261.30,80.54 L262.30,82.73 L263.31,85.16 L264.31,87.82 L265.31,90.74 L266.32,93.90 L267.32,97.30 L268.32,100.91 L269.33,104.73 L270.33,108.72 L271.33,112.85 L272.34,117.09 L273.34,121.41 L274.34,125.77 L275.34,130.15 L276.35,134.50 L277.35,138.82 L278.35,143.06 L279.36,147.21 L280.36,151.25 L281.36,155.16 L282.37,158.94 L283.37,162.57 L284.37,166.05 L285.37,169.37 L286.38,172.52 L287.38,175.52 L288.38,178.36 L289.39,181.04 L290.39,183.56 L291.39,185.94 L292.40,188.17 L293.40,190.26 L294.40,192.21 L295.41,194.04 L296.41,195.74 L297.41,197.33 L298.41,198.81 L299.42,200.18 L300.42,201.46 L301.42,202.64 L302.43,203.74 L303.43,204.75 L304.43,205.69 L305.44,206.55 L306.44,207.35 L307.44,208.09 L308.45,208.77 L309.45,209.39 L310.45,209.96 L311.45,210.49 L312.46,210.97 L313.46,211.41 L314.46,211.82 L315.47,212.19 L316.47,212.53 L317.47,212.84 L318.48,213.12 L319.48,213.38 L320.48,213.61 L321.48,213.82 L322.49,214.02 L323.49,214.19 L324.49,214.35 L325.50,214.50 L326.50,214.63" stroke="#00ff00" stroke-width="2.25"/>
</g>
<g stroke="#8e8e8e" stroke-width="1.55" fill="none">
<path d="M63.7,14.0 V220.95 H327.0"/>
</g>
<g stroke="#4a4a4a" stroke-width="0.95" fill="none">
<path d="M63.7,210.08 h-2 M63.7,196.11 h-4 M63.7,182.14 h-2 M63.7,168.18 h-4 M63.7,154.21 h-2 M63.7,140.24 h-4 M63.7,126.27 h-2 M63.7,112.31 h-4 M63.7,98.34 h-2 M63.7,84.37 h-4 M63.7,70.40 h-2 M63.7,56.44 h-4 M63.7,42.47 h-2 M63.7,28.50 h-4 M63.7,14.53 h-2 M326.50,220.95 v4 M310.07,220.95 v2 M293.65,220.95 v4 M277.23,220.95 v2 M260.80,220.95 v4 M244.38,220.95 v2 M227.95,220.95 v4 M211.53,220.95 v2 M195.10,220.95 v4 M178.68,220.95 v2 M162.25,220.95 v4 M145.82,220.95 v2 M129.40,220.95 v4 M112.98,220.95 v2 M96.55,220.95 v4 M80.12,220.95 v2 M63.70,220.95 v4"/>
</g>
<g font-family="'Liberation Sans', sans-serif" font-size="11" fill="#0c0c0c" stroke="#0c0c0c" stroke-width="0.18">
<text x="57.2" y="200.01" text-anchor="end">8,500</text>
<text x="57.2" y="172.08" text-anchor="end">9,000</text>
<text x="57.2" y="144.14" text-anchor="end">9,500</text>
<text x="57.2" y="116.21" text-anchor="end">10,000</text>
<text x="57.2" y="88.27" text-anchor="end">10,500</text>
<text x="57.2" y="60.34" text-anchor="end">11,000</text>
<text x="57.2" y="32.40" text-anchor="end">11,500</text>
<text x="326.50" y="237.3" text-anchor="middle">332</text>
<text x="293.65" y="237.3" text-anchor="middle">334</text>
<text x="260.80" y="237.3" text-anchor="middle">336</text>
<text x="227.95" y="237.3" text-anchor="middle">338</text>
<text x="195.10" y="237.3" text-anchor="middle">340</text>
<text x="162.25" y="237.3" text-anchor="middle">342</text>
<text x="129.40" y="237.3" text-anchor="middle">344</text>
<text x="96.55" y="237.3" text-anchor="middle">346</text>
<text x="63.70" y="237.3" text-anchor="middle">348</text>
</g>
<g font-family="'Liberation Sans', sans-serif" fill="#0c0c0c" stroke="#0c0c0c" stroke-width="0.15">
<text transform="translate(19.7,105.3) rotate(-90)" text-anchor="middle" font-size="15.1" letter-spacing="0.2">Intensity, c/s</text>
<text x="200.9" y="254.6" text-anchor="middle" font-size="14.5">Binding energy, eV</text>
</g>
<text x="188.5" y="290.6" text-anchor="middle" font-family="'Liberation Serif', serif" font-size="20.5" letter-spacing="-0.3" fill="#111">(<tspan font-weight="bold">a</tspan>)</text>
<g fill="none" stroke-linejoin="miter" stroke-linecap="butt">
<path d="M466.70,139.33 L468.39,138.05 L470.09,142.54 L471.78,138.11 L473.47,138.62 L475.16,140.93 L476.86,136.71 L478.55,137.04 L480.24,138.10 L481.93,136.95 L483.63,135.17 L485.32,136.38 L487.01,135.62 L488.70,136.62 L490.40,132.10 L492.09,132.89 L493.78,135.10 L495.48,135.24 L497.17,128.19 L498.86,130.56 L500.55,126.15 L502.25,124.63 L503.94,122.70 L505.63,121.47 L507.32,121.90 L509.02,119.03 L510.71,115.28 L512.40,111.82 L514.09,109.80 L515.79,106.75 L517.48,105.73 L519.17,99.85 L520.87,98.28 L522.56,95.25 L524.25,92.62 L525.94,90.71 L527.64,88.20 L529.33,88.67 L531.02,83.50 L532.71,85.79 L534.41,80.16 L536.10,78.85 L537.79,79.65 L539.48,79.98 L541.18,79.75 L542.87,82.35 L544.56,82.29 L546.26,81.14 L547.95,79.57 L549.64,80.44 L551.33,84.20 L553.03,81.43 L554.72,77.62 L556.41,78.63 L558.10,78.19 L559.80,81.36 L561.49,77.16 L563.18,81.49 L564.87,76.10 L566.57,73.19 L568.26,70.16 L569.95,72.11 L571.65,67.64 L573.34,64.94 L575.03,67.58 L576.72,65.60 L578.42,68.44 L580.11,65.42 L581.80,58.92 L583.49,69.22 L585.19,63.73 L586.88,73.82 L588.57,76.10 L590.26,72.14 L591.96,71.89 L593.65,72.75 L595.34,79.39 L597.04,77.68 L598.73,77.30 L600.42,78.37 L602.11,83.78 L603.81,79.18 L605.50,79.38 L607.19,78.43 L608.88,77.75 L610.58,76.41 L612.27,70.44 L613.96,69.97 L615.65,66.66 L617.35,63.77 L619.04,65.70 L620.73,61.64 L622.43,63.07 L624.12,60.99 L625.81,60.91 L627.50,64.52 L629.20,61.56 L630.89,62.00 L632.58,65.30 L634.27,66.24 L635.97,68.04 L637.66,67.50 L639.35,63.47 L641.04,70.17 L642.74,69.83 L644.43,70.57 L646.12,64.62 L647.82,71.80 L649.51,59.98 L651.20,62.48 L652.89,57.39 L654.59,52.93 L656.28,54.83 L657.97,51.60 L659.66,46.32 L661.36,49.80 L663.05,53.81 L664.74,57.21 L666.43,43.57 L668.13,52.22 L669.82,65.96 L671.51,67.58 L673.21,66.62 L674.90,69.00 L676.59,74.92 L678.28,84.72 L679.98,93.21 L681.67,97.01 L683.36,106.13 L685.05,117.77 L686.75,123.86 L688.44,130.35 L690.13,137.61 L691.82,143.17 L693.52,151.45 L695.21,157.47 L696.90,162.49 L698.60,164.60 L700.29,168.12 L701.98,171.98 L703.67,174.83 L705.37,176.66 L707.06,178.20 L708.75,177.66 L710.44,177.90 L712.14,181.69 L713.83,181.54 L715.52,182.33 L717.21,182.08 L718.91,182.19 L720.60,185.47" stroke="#000" stroke-width="0.7"/>
<path d="M466.70,141.15 L467.67,141.23 L468.64,141.31 L469.61,141.38 L470.58,141.46 L471.55,141.53 L472.51,141.61 L473.48,141.68 L474.45,141.76 L475.42,141.84 L476.39,141.91 L477.36,141.99 L478.33,142.07 L479.30,142.15 L480.27,142.23 L481.24,142.31 L482.21,142.38 L483.17,142.46 L484.14,142.54 L485.11,142.63 L486.08,142.71 L487.05,142.79 L488.02,142.87 L488.99,142.96 L489.96,143.04 L490.93,143.13 L491.90,143.22 L492.87,143.30 L493.83,143.39 L494.80,143.48 L495.77,143.58 L496.74,143.67 L497.71,143.76 L498.68,143.86 L499.65,143.96 L500.62,144.06 L501.59,144.16 L502.56,144.27 L503.53,144.37 L504.49,144.48 L505.46,144.59 L506.43,144.71 L507.40,144.82 L508.37,144.94 L509.34,145.06 L510.31,145.19 L511.28,145.32 L512.25,145.45 L513.22,145.58 L514.19,145.72 L515.15,145.86 L516.12,146.00 L517.09,146.15 L518.06,146.30 L519.03,146.45 L520.00,146.61 L520.97,146.77 L521.94,146.93 L522.91,147.10 L523.88,147.27 L524.85,147.44 L525.81,147.62 L526.78,147.80 L527.75,147.98 L528.72,148.17 L529.69,148.35 L530.66,148.54 L531.63,148.73 L532.60,148.93 L533.57,149.12 L534.54,149.32 L535.50,149.52 L536.47,149.71 L537.44,149.91 L538.41,150.12 L539.38,150.32 L540.35,150.52 L541.32,150.72 L542.29,150.92 L543.26,151.12 L544.23,151.33 L545.20,151.53 L546.16,151.73 L547.13,151.93 L548.10,152.14 L549.07,152.34 L550.04,152.54 L551.01,152.75 L551.98,152.95 L552.95,153.16 L553.92,153.36 L554.89,153.57 L555.86,153.77 L556.82,153.98 L557.79,154.19 L558.76,154.41 L559.73,154.62 L560.70,154.84 L561.67,155.05 L562.64,155.27 L563.61,155.50 L564.58,155.72 L565.55,155.95 L566.52,156.18 L567.48,156.41 L568.45,156.65 L569.42,156.89 L570.39,157.13 L571.36,157.37 L572.33,157.62 L573.30,157.87 L574.27,158.12 L575.24,158.37 L576.21,158.62 L577.18,158.87 L578.14,159.13 L579.11,159.38 L580.08,159.63 L581.05,159.89 L582.02,160.14 L582.99,160.40 L583.96,160.65 L584.93,160.90 L585.90,161.15 L586.87,161.40 L587.84,161.64 L588.80,161.89 L589.77,162.13 L590.74,162.37 L591.71,162.61 L592.68,162.84 L593.65,163.08 L594.62,163.31 L595.59,163.54 L596.56,163.77 L597.53,164.00 L598.50,164.23 L599.46,164.46 L600.43,164.68 L601.40,164.91 L602.37,165.13 L603.34,165.36 L604.31,165.59 L605.28,165.81 L606.25,166.04 L607.22,166.27 L608.19,166.50 L609.16,166.73 L610.12,166.97 L611.09,167.20 L612.06,167.44 L613.03,167.68 L614.00,167.92 L614.97,168.16 L615.94,168.41 L616.91,168.66 L617.88,168.91 L618.85,169.16 L619.82,169.41 L620.78,169.67 L621.75,169.92 L622.72,170.18 L623.69,170.44 L624.66,170.69 L625.63,170.95 L626.60,171.21 L627.57,171.47 L628.54,171.73 L629.51,171.98 L630.48,172.24 L631.44,172.49 L632.41,172.75 L633.38,173.00 L634.35,173.25 L635.32,173.50 L636.29,173.74 L637.26,173.99 L638.23,174.23 L639.20,174.47 L640.17,174.71 L641.14,174.94 L642.10,175.18 L643.07,175.41 L644.04,175.64 L645.01,175.86 L645.98,176.09 L646.95,176.31 L647.92,176.53 L648.89,176.75 L649.86,176.97 L650.83,177.19 L651.80,177.41 L652.76,177.62 L653.73,177.84 L654.70,178.05 L655.67,178.27 L656.64,178.48 L657.61,178.69 L658.58,178.90 L659.55,179.12 L660.52,179.33 L661.49,179.53 L662.45,179.74 L663.42,179.95 L664.39,180.15 L665.36,180.36 L666.33,180.56 L667.30,180.76 L668.27,180.96 L669.24,181.15 L670.21,181.35 L671.18,181.54 L672.15,181.72 L673.11,181.91 L674.08,182.09 L675.05,182.26 L676.02,182.44 L676.99,182.60 L677.96,182.77 L678.93,182.93 L679.90,183.08 L680.87,183.24 L681.84,183.38 L682.81,183.53 L683.77,183.66 L684.74,183.80 L685.71,183.93 L686.68,184.06 L687.65,184.18 L688.62,184.30 L689.59,184.42 L690.56,184.53 L691.53,184.64 L692.50,184.74 L693.47,184.85 L694.43,184.95 L695.40,185.05 L696.37,185.14 L697.34,185.24 L698.31,185.33 L699.28,185.42 L700.25,185.50 L701.22,185.59 L702.19,185.68 L703.16,185.76 L704.13,185.84 L705.09,185.92 L706.06,186.00 L707.03,186.08 L708.00,186.16 L708.97,186.24 L709.94,186.32 L710.91,186.39 L711.88,186.47 L712.85,186.54 L713.82,186.62 L714.79,186.70 L715.75,186.77 L716.72,186.84 L717.69,186.92 L718.66,186.99 L719.63,187.07 L720.60,187.14" stroke="#2a00b0" stroke-width="0.75"/>
<path d="M466.70,141.00 L467.67,141.07 L468.64,141.15 L469.61,141.22 L470.58,141.29 L471.55,141.36 L472.51,141.44 L473.48,141.51 L474.45,141.58 L475.42,141.66 L476.39,141.73 L477.36,141.81 L478.33,141.88 L479.30,141.95 L480.27,142.03 L481.24,142.10 L482.21,142.18 L483.17,142.26 L484.14,142.33 L485.11,142.41 L486.08,142.49 L487.05,142.56 L488.02,142.64 L488.99,142.72 L489.96,142.80 L490.93,142.88 L491.90,142.97 L492.87,143.05 L493.83,143.13 L494.80,143.22 L495.77,143.30 L496.74,143.39 L497.71,143.48 L498.68,143.57 L499.65,143.66 L500.62,143.75 L501.59,143.85 L502.56,143.95 L503.53,144.04 L504.49,144.14 L505.46,144.25 L506.43,144.35 L507.40,144.46 L508.37,144.56 L509.34,144.67 L510.31,144.79 L511.28,144.90 L512.25,145.02 L513.22,145.13 L514.19,145.25 L515.15,145.37 L516.12,145.49 L517.09,145.61 L518.06,145.73 L519.03,145.85 L520.00,145.97 L520.97,146.08 L521.94,146.20 L522.91,146.30 L523.88,146.41 L524.85,146.50 L525.81,146.59 L526.78,146.66 L527.75,146.73 L528.72,146.77 L529.69,146.80 L530.66,146.81 L531.63,146.80 L532.60,146.76 L533.57,146.69 L534.54,146.58 L535.50,146.43 L536.47,146.24 L537.44,146.00 L538.41,145.71 L539.38,145.37 L540.35,144.95 L541.32,144.47 L542.29,143.92 L543.26,143.29 L544.23,142.58 L545.20,141.78 L546.16,140.89 L547.13,139.90 L548.10,138.81 L549.07,137.62 L550.04,136.33 L551.01,134.94 L551.98,133.44 L552.95,131.84 L553.92,130.13 L554.89,128.33 L555.86,126.44 L556.82,124.46 L557.79,122.41 L558.76,120.28 L559.73,118.09 L560.70,115.86 L561.67,113.59 L562.64,111.30 L563.61,109.01 L564.58,106.72 L565.55,104.47 L566.52,102.27 L567.48,100.13 L568.45,98.07 L569.42,96.12 L570.39,94.30 L571.36,92.62 L572.33,91.10 L573.30,89.76 L574.27,88.61 L575.24,87.67 L576.21,86.96 L577.18,86.48 L578.14,86.24 L579.11,86.24 L580.08,86.50 L581.05,87.00 L582.02,87.75 L582.99,88.75 L583.96,89.97 L584.93,91.42 L585.90,93.07 L586.87,94.91 L587.84,96.93 L588.80,99.11 L589.77,101.42 L590.74,103.85 L591.71,106.38 L592.68,108.98 L593.65,111.65 L594.62,114.36 L595.59,117.09 L596.56,119.83 L597.53,122.55 L598.50,125.26 L599.46,127.92 L600.43,130.53 L601.40,133.08 L602.37,135.56 L603.34,137.96 L604.31,140.27 L605.28,142.49 L606.25,144.61 L607.22,146.63 L608.19,148.56 L609.16,150.37 L610.12,152.09 L611.09,153.71 L612.06,155.23 L613.03,156.65 L614.00,157.98 L614.97,159.22 L615.94,160.38 L616.91,161.46 L617.88,162.46 L618.85,163.39 L619.82,164.26 L620.78,165.06 L621.75,165.81 L622.72,166.50 L623.69,167.15 L624.66,167.76 L625.63,168.32 L626.60,168.85 L627.57,169.35 L628.54,169.81 L629.51,170.25 L630.48,170.67 L631.44,171.07 L632.41,171.44 L633.38,171.80 L634.35,172.14 L635.32,172.47 L636.29,172.79 L637.26,173.10 L638.23,173.40 L639.20,173.68 L640.17,173.96 L641.14,174.24 L642.10,174.50 L643.07,174.76 L644.04,175.02 L645.01,175.27 L645.98,175.52 L646.95,175.76 L647.92,176.00 L648.89,176.24 L649.86,176.48 L650.83,176.71 L651.80,176.94 L652.76,177.17 L653.73,177.40 L654.70,177.62 L655.67,177.85 L656.64,178.07 L657.61,178.29 L658.58,178.51 L659.55,178.73 L660.52,178.95 L661.49,179.17 L662.45,179.38 L663.42,179.60 L664.39,179.81 L665.36,180.02 L666.33,180.23 L667.30,180.44 L668.27,180.64 L669.24,180.85 L670.21,181.05 L671.18,181.24 L672.15,181.43 L673.11,181.62 L674.08,181.81 L675.05,181.99 L676.02,182.17 L676.99,182.34 L677.96,182.51 L678.93,182.68 L679.90,182.84 L680.87,182.99 L681.84,183.14 L682.81,183.29 L683.77,183.43 L684.74,183.57 L685.71,183.71 L686.68,183.84 L687.65,183.97 L688.62,184.09 L689.59,184.21 L690.56,184.32 L691.53,184.44 L692.50,184.55 L693.47,184.65 L694.43,184.76 L695.40,184.86 L696.37,184.96 L697.34,185.05 L698.31,185.15 L699.28,185.24 L700.25,185.33 L701.22,185.42 L702.19,185.51 L703.16,185.59 L704.13,185.68 L705.09,185.76 L706.06,185.84 L707.03,185.93 L708.00,186.01 L708.97,186.09 L709.94,186.17 L710.91,186.25 L711.88,186.32 L712.85,186.40 L713.82,186.48 L714.79,186.56 L715.75,186.63 L716.72,186.71 L717.69,186.79 L718.66,186.86 L719.63,186.94 L720.60,187.01" stroke="#0000ff" stroke-width="2.1"/>
<path d="M466.70,141.07 L467.67,141.15 L468.64,141.22 L469.61,141.30 L470.58,141.37 L471.55,141.45 L472.51,141.52 L473.48,141.60 L474.45,141.67 L475.42,141.75 L476.39,141.82 L477.36,141.90 L478.33,141.98 L479.30,142.05 L480.27,142.13 L481.24,142.21 L482.21,142.29 L483.17,142.37 L484.14,142.45 L485.11,142.53 L486.08,142.61 L487.05,142.69 L488.02,142.77 L488.99,142.85 L489.96,142.94 L490.93,143.02 L491.90,143.11 L492.87,143.20 L493.83,143.28 L494.80,143.37 L495.77,143.46 L496.74,143.56 L497.71,143.65 L498.68,143.75 L499.65,143.84 L500.62,143.94 L501.59,144.04 L502.56,144.15 L503.53,144.25 L504.49,144.36 L505.46,144.47 L506.43,144.58 L507.40,144.70 L508.37,144.81 L509.34,144.93 L510.31,145.06 L511.28,145.18 L512.25,145.31 L513.22,145.44 L514.19,145.58 L515.15,145.72 L516.12,145.86 L517.09,146.01 L518.06,146.15 L519.03,146.31 L520.00,146.46 L520.97,146.62 L521.94,146.78 L522.91,146.95 L523.88,147.11 L524.85,147.28 L525.81,147.46 L526.78,147.64 L527.75,147.81 L528.72,148.00 L529.69,148.18 L530.66,148.37 L531.63,148.56 L532.60,148.75 L533.57,148.94 L534.54,149.13 L535.50,149.33 L536.47,149.53 L537.44,149.72 L538.41,149.92 L539.38,150.12 L540.35,150.32 L541.32,150.52 L542.29,150.72 L543.26,150.92 L544.23,151.11 L545.20,151.31 L546.16,151.51 L547.13,151.71 L548.10,151.91 L549.07,152.11 L550.04,152.31 L551.01,152.51 L551.98,152.71 L552.95,152.91 L553.92,153.11 L554.89,153.31 L555.86,153.52 L556.82,153.72 L557.79,153.93 L558.76,154.13 L559.73,154.34 L560.70,154.55 L561.67,154.77 L562.64,154.98 L563.61,155.20 L564.58,155.42 L565.55,155.64 L566.52,155.87 L567.48,156.10 L568.45,156.32 L569.42,156.56 L570.39,156.79 L571.36,157.03 L572.33,157.27 L573.30,157.51 L574.27,157.75 L575.24,157.99 L576.21,158.24 L577.18,158.48 L578.14,158.73 L579.11,158.98 L580.08,159.22 L581.05,159.47 L582.02,159.71 L582.99,159.96 L583.96,160.20 L584.93,160.44 L585.90,160.68 L586.87,160.92 L587.84,161.15 L588.80,161.38 L589.77,161.61 L590.74,161.84 L591.71,162.07 L592.68,162.29 L593.65,162.51 L594.62,162.73 L595.59,162.94 L596.56,163.15 L597.53,163.36 L598.50,163.57 L599.46,163.78 L600.43,163.98 L601.40,164.18 L602.37,164.38 L603.34,164.58 L604.31,164.78 L605.28,164.97 L606.25,165.16 L607.22,165.34 L608.19,165.52 L609.16,165.70 L610.12,165.87 L611.09,166.03 L612.06,166.19 L613.03,166.33 L614.00,166.46 L614.97,166.58 L615.94,166.68 L616.91,166.75 L617.88,166.81 L618.85,166.83 L619.82,166.82 L620.78,166.78 L621.75,166.69 L622.72,166.55 L623.69,166.35 L624.66,166.10 L625.63,165.77 L626.60,165.37 L627.57,164.88 L628.54,164.30 L629.51,163.62 L630.48,162.82 L631.44,161.91 L632.41,160.86 L633.38,159.68 L634.35,158.35 L635.32,156.87 L636.29,155.23 L637.26,153.43 L638.23,151.45 L639.20,149.29 L640.17,146.96 L641.14,144.46 L642.10,141.78 L643.07,138.92 L644.04,135.90 L645.01,132.73 L645.98,129.40 L646.95,125.94 L647.92,122.37 L648.89,118.69 L649.86,114.94 L650.83,111.13 L651.80,107.29 L652.76,103.45 L653.73,99.63 L654.70,95.87 L655.67,92.20 L656.64,88.66 L657.61,85.27 L658.58,82.08 L659.55,79.11 L660.52,76.40 L661.49,73.97 L662.45,71.87 L663.42,70.11 L664.39,68.72 L665.36,67.72 L666.33,67.12 L667.30,66.93 L668.27,67.16 L669.24,67.82 L670.21,68.91 L671.18,70.41 L672.15,72.30 L673.11,74.55 L674.08,77.15 L675.05,80.05 L676.02,83.23 L676.99,86.66 L677.96,90.28 L678.93,94.08 L679.90,98.01 L680.87,102.04 L681.84,106.14 L682.81,110.27 L683.77,114.42 L684.74,118.54 L685.71,122.61 L686.68,126.62 L687.65,130.53 L688.62,134.34 L689.59,138.02 L690.56,141.56 L691.53,144.95 L692.50,148.19 L693.47,151.26 L694.43,154.16 L695.40,156.90 L696.37,159.46 L697.34,161.85 L698.31,164.08 L699.28,166.14 L700.25,168.04 L701.22,169.79 L702.19,171.40 L703.16,172.87 L704.13,174.21 L705.09,175.43 L706.06,176.54 L707.03,177.54 L708.00,178.44 L708.97,179.26 L709.94,179.99 L710.91,180.65 L711.88,181.25 L712.85,181.78 L713.82,182.27 L714.79,182.70 L715.75,183.09 L716.72,183.45 L717.69,183.77 L718.66,184.06 L719.63,184.32 L720.60,184.57" stroke="#0000ff" stroke-width="2.1"/>
<path d="M466.70,139.14 L467.67,139.15 L468.64,139.15 L469.61,139.14 L470.58,139.13 L471.55,139.11 L472.51,139.08 L473.48,139.04 L474.45,139.00 L475.42,138.94 L476.39,138.87 L477.36,138.79 L478.33,138.70 L479.30,138.59 L480.27,138.47 L481.24,138.33 L482.21,138.16 L483.17,137.98 L484.14,137.78 L485.11,137.55 L486.08,137.29 L487.05,137.01 L488.02,136.69 L488.99,136.35 L489.96,135.97 L490.93,135.55 L491.90,135.10 L492.87,134.61 L493.83,134.08 L494.80,133.50 L495.77,132.88 L496.74,132.21 L497.71,131.49 L498.68,130.73 L499.65,129.91 L500.62,129.04 L501.59,128.12 L502.56,127.15 L503.53,126.13 L504.49,125.05 L505.46,123.92 L506.43,122.74 L507.40,121.51 L508.37,120.23 L509.34,118.90 L510.31,117.54 L511.28,116.13 L512.25,114.69 L513.22,113.21 L514.19,111.71 L515.15,110.18 L516.12,108.64 L517.09,107.09 L518.06,105.53 L519.03,103.98 L520.00,102.43 L520.97,100.91 L521.94,99.41 L522.91,97.95 L523.88,96.53 L524.85,95.17 L525.81,93.87 L526.78,92.66 L527.75,91.52 L528.72,90.49 L529.69,89.56 L530.66,88.75 L531.63,88.06 L532.60,87.51 L533.57,87.10 L534.54,86.84 L535.50,86.73 L536.47,86.78 L537.44,86.99 L538.41,87.34 L539.38,87.84 L540.35,88.49 L541.32,89.28 L542.29,90.21 L543.26,91.27 L544.23,92.44 L545.20,93.74 L546.16,95.13 L547.13,96.63 L548.10,98.21 L549.07,99.87 L550.04,101.60 L551.01,103.38 L551.98,105.22 L552.95,107.09 L553.92,109.00 L554.89,110.93 L555.86,112.87 L556.82,114.82 L557.79,116.77 L558.76,118.71 L559.73,120.63 L560.70,122.54 L561.67,124.41 L562.64,126.26 L563.61,128.07 L564.58,129.85 L565.55,131.58 L566.52,133.26 L567.48,134.89 L568.45,136.48 L569.42,138.01 L570.39,139.48 L571.36,140.91 L572.33,142.27 L573.30,143.58 L574.27,144.84 L575.24,146.04 L576.21,147.19 L577.18,148.28 L578.14,149.32 L579.11,150.31 L580.08,151.25 L581.05,152.14 L582.02,152.99 L582.99,153.79 L583.96,154.55 L584.93,155.27 L585.90,155.95 L586.87,156.59 L587.84,157.20 L588.80,157.78 L589.77,158.32 L590.74,158.84 L591.71,159.34 L592.68,159.80 L593.65,160.25 L594.62,160.67 L595.59,161.08 L596.56,161.46 L597.53,161.83 L598.50,162.19 L599.46,162.54 L600.43,162.87 L601.40,163.19 L602.37,163.51 L603.34,163.81 L604.31,164.11 L605.28,164.40 L606.25,164.69 L607.22,164.98 L608.19,165.26 L609.16,165.54 L610.12,165.81 L611.09,166.09 L612.06,166.36 L613.03,166.64 L614.00,166.91 L614.97,167.18 L615.94,167.46 L616.91,167.73 L617.88,168.00 L618.85,168.28 L619.82,168.55 L620.78,168.83 L621.75,169.10 L622.72,169.38 L623.69,169.65 L624.66,169.93 L625.63,170.20 L626.60,170.48 L627.57,170.75 L628.54,171.02 L629.51,171.29 L630.48,171.56 L631.44,171.83 L632.41,172.10 L633.38,172.36 L634.35,172.62 L635.32,172.88 L636.29,173.14 L637.26,173.40 L638.23,173.65 L639.20,173.90 L640.17,174.15 L641.14,174.39 L642.10,174.63 L643.07,174.88 L644.04,175.11 L645.01,175.35 L645.98,175.58 L646.95,175.82 L647.92,176.05 L648.89,176.27 L649.86,176.50 L650.83,176.73 L651.80,176.95 L652.76,177.18 L653.73,177.40 L654.70,177.62 L655.67,177.84 L656.64,178.06 L657.61,178.28 L658.58,178.50 L659.55,178.71 L660.52,178.93 L661.49,179.14 L662.45,179.36 L663.42,179.57 L664.39,179.78 L665.36,179.99 L666.33,180.20 L667.30,180.40 L668.27,180.61 L669.24,180.81 L670.21,181.00 L671.18,181.20 L672.15,181.39 L673.11,181.58 L674.08,181.76 L675.05,181.94 L676.02,182.12 L676.99,182.29 L677.96,182.46 L678.93,182.62 L679.90,182.78 L680.87,182.94 L681.84,183.09 L682.81,183.24 L683.77,183.38 L684.74,183.52 L685.71,183.65 L686.68,183.78 L687.65,183.91 L688.62,184.03 L689.59,184.15 L690.56,184.27 L691.53,184.38 L692.50,184.49 L693.47,184.60 L694.43,184.70 L695.40,184.80 L696.37,184.90 L697.34,185.00 L698.31,185.09 L699.28,185.18 L700.25,185.27 L701.22,185.36 L702.19,185.45 L703.16,185.54 L704.13,185.62 L705.09,185.70 L706.06,185.79 L707.03,185.87 L708.00,185.95 L708.97,186.03 L709.94,186.11 L710.91,186.19 L711.88,186.27 L712.85,186.35 L713.82,186.42 L714.79,186.50 L715.75,186.58 L716.72,186.65 L717.69,186.73 L718.66,186.81 L719.63,186.88 L720.60,186.96" stroke="#ff00ff" stroke-width="2.1"/>
<path d="M466.70,140.86 L467.67,140.93 L468.64,141.01 L469.61,141.08 L470.58,141.15 L471.55,141.22 L472.51,141.29 L473.48,141.37 L474.45,141.44 L475.42,141.51 L476.39,141.58 L477.36,141.66 L478.33,141.73 L479.30,141.80 L480.27,141.88 L481.24,141.95 L482.21,142.03 L483.17,142.10 L484.14,142.18 L485.11,142.25 L486.08,142.33 L487.05,142.41 L488.02,142.49 L488.99,142.57 L489.96,142.64 L490.93,142.72 L491.90,142.81 L492.87,142.89 L493.83,142.97 L494.80,143.06 L495.77,143.14 L496.74,143.23 L497.71,143.32 L498.68,143.41 L499.65,143.50 L500.62,143.59 L501.59,143.69 L502.56,143.79 L503.53,143.89 L504.49,143.99 L505.46,144.09 L506.43,144.20 L507.40,144.31 L508.37,144.42 L509.34,144.53 L510.31,144.65 L511.28,144.76 L512.25,144.89 L513.22,145.01 L514.19,145.14 L515.15,145.27 L516.12,145.40 L517.09,145.54 L518.06,145.68 L519.03,145.82 L520.00,145.97 L520.97,146.12 L521.94,146.27 L522.91,146.42 L523.88,146.58 L524.85,146.74 L525.81,146.91 L526.78,147.07 L527.75,147.24 L528.72,147.41 L529.69,147.58 L530.66,147.76 L531.63,147.93 L532.60,148.11 L533.57,148.29 L534.54,148.47 L535.50,148.65 L536.47,148.83 L537.44,149.01 L538.41,149.19 L539.38,149.37 L540.35,149.55 L541.32,149.72 L542.29,149.90 L543.26,150.08 L544.23,150.25 L545.20,150.42 L546.16,150.60 L547.13,150.76 L548.10,150.93 L549.07,151.09 L550.04,151.26 L551.01,151.41 L551.98,151.57 L552.95,151.72 L553.92,151.86 L554.89,152.00 L555.86,152.14 L556.82,152.27 L557.79,152.39 L558.76,152.51 L559.73,152.62 L560.70,152.71 L561.67,152.80 L562.64,152.88 L563.61,152.94 L564.58,152.99 L565.55,153.02 L566.52,153.03 L567.48,153.02 L568.45,152.99 L569.42,152.93 L570.39,152.84 L571.36,152.72 L572.33,152.57 L573.30,152.38 L574.27,152.15 L575.24,151.87 L576.21,151.55 L577.18,151.17 L578.14,150.74 L579.11,150.25 L580.08,149.69 L581.05,149.07 L582.02,148.37 L582.99,147.60 L583.96,146.75 L584.93,145.82 L585.90,144.81 L586.87,143.71 L587.84,142.51 L588.80,141.23 L589.77,139.85 L590.74,138.37 L591.71,136.80 L592.68,135.14 L593.65,133.38 L594.62,131.53 L595.59,129.59 L596.56,127.56 L597.53,125.45 L598.50,123.26 L599.46,121.00 L600.43,118.67 L601.40,116.28 L602.37,113.84 L603.34,111.35 L604.31,108.84 L605.28,106.30 L606.25,103.75 L607.22,101.20 L608.19,98.66 L609.16,96.16 L610.12,93.69 L611.09,91.27 L612.06,88.93 L613.03,86.67 L614.00,84.51 L614.97,82.46 L615.94,80.54 L616.91,78.76 L617.88,77.14 L618.85,75.70 L619.82,74.43 L620.78,73.36 L621.75,72.50 L622.72,71.85 L623.69,71.43 L624.66,71.23 L625.63,71.27 L626.60,71.53 L627.57,72.03 L628.54,72.74 L629.51,73.68 L630.48,74.83 L631.44,76.18 L632.41,77.74 L633.38,79.48 L634.35,81.41 L635.32,83.50 L636.29,85.75 L637.26,88.14 L638.23,90.66 L639.20,93.30 L640.17,96.04 L641.14,98.86 L642.10,101.76 L643.07,104.71 L644.04,107.71 L645.01,110.74 L645.98,113.79 L646.95,116.84 L647.92,119.88 L648.89,122.90 L649.86,125.89 L650.83,128.84 L651.80,131.74 L652.76,134.58 L653.73,137.36 L654.70,140.06 L655.67,142.68 L656.64,145.22 L657.61,147.67 L658.58,150.02 L659.55,152.28 L660.52,154.45 L661.49,156.52 L662.45,158.49 L663.42,160.36 L664.39,162.14 L665.36,163.82 L666.33,165.40 L667.30,166.89 L668.27,168.30 L669.24,169.61 L670.21,170.85 L671.18,172.00 L672.15,173.07 L673.11,174.07 L674.08,175.00 L675.05,175.86 L676.02,176.66 L676.99,177.40 L677.96,178.08 L678.93,178.71 L679.90,179.29 L680.87,179.83 L681.84,180.32 L682.81,180.78 L683.77,181.20 L684.74,181.58 L685.71,181.94 L686.68,182.26 L687.65,182.56 L688.62,182.84 L689.59,183.10 L690.56,183.33 L691.53,183.55 L692.50,183.75 L693.47,183.94 L694.43,184.12 L695.40,184.29 L696.37,184.44 L697.34,184.59 L698.31,184.72 L699.28,184.85 L700.25,184.98 L701.22,185.09 L702.19,185.21 L703.16,185.32 L704.13,185.42 L705.09,185.52 L706.06,185.62 L707.03,185.71 L708.00,185.81 L708.97,185.90 L709.94,185.99 L710.91,186.07 L711.88,186.16 L712.85,186.24 L713.82,186.33 L714.79,186.41 L715.75,186.49 L716.72,186.57 L717.69,186.65 L718.66,186.73 L719.63,186.81 L720.60,186.89" stroke="#ff00ff" stroke-width="2.1"/>
<path d="M466.70,138.61 L467.67,138.61 L468.64,138.60 L469.61,138.59 L470.58,138.57 L471.55,138.54 L472.51,138.51 L473.48,138.46 L474.45,138.41 L475.42,138.35 L476.39,138.27 L477.36,138.18 L478.33,138.08 L479.30,137.96 L480.27,137.83 L481.24,137.68 L482.21,137.51 L483.17,137.31 L484.14,137.10 L485.11,136.86 L486.08,136.59 L487.05,136.30 L488.02,135.97 L488.99,135.62 L489.96,135.23 L490.93,134.80 L491.90,134.34 L492.87,133.83 L493.83,133.29 L494.80,132.70 L495.77,132.06 L496.74,131.38 L497.71,130.65 L498.68,129.87 L499.65,129.04 L500.62,128.15 L501.59,127.22 L502.56,126.23 L503.53,125.19 L504.49,124.09 L505.46,122.94 L506.43,121.74 L507.40,120.49 L508.37,119.19 L509.34,117.85 L510.31,116.46 L511.28,115.03 L512.25,113.56 L513.22,112.06 L514.19,110.52 L515.15,108.96 L516.12,107.39 L517.09,105.79 L518.06,104.19 L519.03,102.59 L520.00,101.00 L520.97,99.41 L521.94,97.85 L522.91,96.32 L523.88,94.82 L524.85,93.36 L525.81,91.96 L526.78,90.63 L527.75,89.36 L528.72,88.17 L529.69,87.07 L530.66,86.06 L531.63,85.15 L532.60,84.35 L533.57,83.65 L534.54,83.07 L535.50,82.59 L536.47,82.23 L537.44,81.97 L538.41,81.81 L539.38,81.74 L540.35,81.75 L541.32,81.84 L542.29,81.98 L543.26,82.18 L544.23,82.41 L545.20,82.66 L546.16,82.93 L547.13,83.20 L548.10,83.45 L549.07,83.68 L550.04,83.86 L551.01,84.00 L551.98,84.08 L552.95,84.09 L553.92,84.02 L554.89,83.88 L555.86,83.64 L556.82,83.32 L557.79,82.91 L558.76,82.41 L559.73,81.82 L560.70,81.16 L561.67,80.41 L562.64,79.60 L563.61,78.73 L564.58,77.81 L565.55,76.86 L566.52,75.88 L567.48,74.89 L568.45,73.91 L569.42,72.95 L570.39,72.03 L571.36,71.16 L572.33,70.35 L573.30,69.63 L574.27,69.00 L575.24,68.48 L576.21,68.08 L577.18,67.80 L578.14,67.65 L579.11,67.63 L580.08,67.75 L581.05,68.01 L582.02,68.39 L582.99,68.90 L583.96,69.53 L584.93,70.25 L585.90,71.06 L586.87,71.93 L587.84,72.87 L588.80,73.83 L589.77,74.81 L590.74,75.80 L591.71,76.76 L592.68,77.68 L593.65,78.55 L594.62,79.35 L595.59,80.07 L596.56,80.69 L597.53,81.20 L598.50,81.59 L599.46,81.86 L600.43,82.01 L601.40,82.01 L602.37,81.89 L603.34,81.63 L604.31,81.24 L605.28,80.72 L606.25,80.09 L607.22,79.35 L608.19,78.50 L609.16,77.57 L610.12,76.57 L611.09,75.50 L612.06,74.39 L613.03,73.25 L614.00,72.10 L614.97,70.95 L615.94,69.82 L616.91,68.73 L617.88,67.69 L618.85,66.72 L619.82,65.83 L620.78,65.03 L621.75,64.33 L622.72,63.75 L623.69,63.28 L624.66,62.93 L625.63,62.71 L626.60,62.60 L627.57,62.60 L628.54,62.70 L629.51,62.89 L630.48,63.17 L631.44,63.51 L632.41,63.90 L633.38,64.33 L634.35,64.78 L635.32,65.24 L636.29,65.68 L637.26,66.10 L638.23,66.47 L639.20,66.77 L640.17,66.99 L641.14,67.12 L642.10,67.15 L643.07,67.06 L644.04,66.84 L645.01,66.50 L645.98,66.03 L646.95,65.43 L647.92,64.70 L648.89,63.85 L649.86,62.89 L650.83,61.83 L651.80,60.70 L652.76,59.50 L653.73,58.26 L654.70,57.01 L655.67,55.76 L656.64,54.56 L657.61,53.43 L658.58,52.39 L659.55,51.49 L660.52,50.75 L661.49,50.20 L662.45,49.87 L663.42,49.79 L664.39,49.99 L665.36,50.47 L666.33,51.27 L667.30,52.38 L668.27,53.83 L669.24,55.63 L670.21,57.76 L671.18,60.23 L672.15,63.02 L673.11,66.10 L674.08,69.46 L675.05,73.06 L676.02,76.87 L676.99,80.87 L677.96,85.03 L678.93,89.31 L679.90,93.67 L680.87,98.10 L681.84,102.55 L682.81,107.00 L683.77,111.43 L684.74,115.81 L685.71,120.12 L686.68,124.33 L687.65,128.43 L688.62,132.40 L689.59,136.23 L690.56,139.90 L691.53,143.41 L692.50,146.75 L693.47,149.91 L694.43,152.90 L695.40,155.70 L696.37,158.33 L697.34,160.78 L698.31,163.06 L699.28,165.16 L700.25,167.11 L701.22,168.90 L702.19,170.54 L703.16,172.04 L704.13,173.41 L705.09,174.65 L706.06,175.78 L707.03,176.80 L708.00,177.72 L708.97,178.56 L709.94,179.31 L710.91,179.98 L711.88,180.59 L712.85,181.14 L713.82,181.64 L714.79,182.08 L715.75,182.48 L716.72,182.85 L717.69,183.18 L718.66,183.48 L719.63,183.76 L720.60,184.01" stroke="#00ff00" stroke-width="2.25"/>
</g>
<g stroke="#8e8e8e" stroke-width="1.55" fill="none">
<path d="M466.7,14.0 V220.85 H721.1"/>
</g>
<g stroke="#4a4a4a" stroke-width="0.95" fill="none">
<path d="M466.7,220.85 h-4 M466.7,200.22 h-2 M466.7,179.58 h-4 M466.7,158.94 h-2 M466.7,138.31 h-4 M466.7,117.67 h-2 M466.7,97.04 h-4 M466.7,76.41 h-2 M466.7,55.77 h-4 M466.7,35.14 h-2 M466.7,14.50 h-4 M720.60,220.85 v4 M703.67,220.85 v2 M686.75,220.85 v4 M669.82,220.85 v2 M652.89,220.85 v4 M635.97,220.85 v2 M619.04,220.85 v4 M602.11,220.85 v2 M585.19,220.85 v4 M568.26,220.85 v2 M551.33,220.85 v4 M534.41,220.85 v2 M517.48,220.85 v4 M500.55,220.85 v2 M483.63,220.85 v4 M466.70,220.85 v2"/>
</g>
<g font-family="'Liberation Sans', sans-serif" font-size="11" fill="#0c0c0c" stroke="#0c0c0c" stroke-width="0.18">
<text x="460.2" y="224.75" text-anchor="end">1,000</text>
<text x="460.2" y="183.48" text-anchor="end">1,500</text>
<text x="460.2" y="142.21" text-anchor="end">2,000</text>
<text x="460.2" y="100.94" text-anchor="end">2,500</text>
<text x="460.2" y="59.67" text-anchor="end">3,000</text>
<text x="460.2" y="18.40" text-anchor="end">3,500</text>
<text x="720.60" y="237.3" text-anchor="middle">332</text>
<text x="686.75" y="237.3" text-anchor="middle">334</text>
<text x="652.89" y="237.3" text-anchor="middle">336</text>
<text x="619.04" y="237.3" text-anchor="middle">338</text>
<text x="585.19" y="237.3" text-anchor="middle">340</text>
<text x="551.33" y="237.3" text-anchor="middle">342</text>
<text x="517.48" y="237.3" text-anchor="middle">344</text>
<text x="483.63" y="237.3" text-anchor="middle">346</text>
</g>
<g font-family="'Liberation Sans', sans-serif" fill="#0c0c0c" stroke="#0c0c0c" stroke-width="0.15">
<text transform="translate(422.2,116.6) rotate(-90)" text-anchor="middle" font-size="14.9" letter-spacing="0.15">Intensity, c/s</text>
<text x="604.6" y="256.8" text-anchor="middle" font-size="14.2">Binding energy, eV</text>
</g>
<text x="587.5" y="290.6" text-anchor="middle" font-family="'Liberation Serif', serif" font-size="20.5" letter-spacing="0.5" fill="#111">(<tspan font-weight="bold">b</tspan>)</text>
</svg>
</body></html>
